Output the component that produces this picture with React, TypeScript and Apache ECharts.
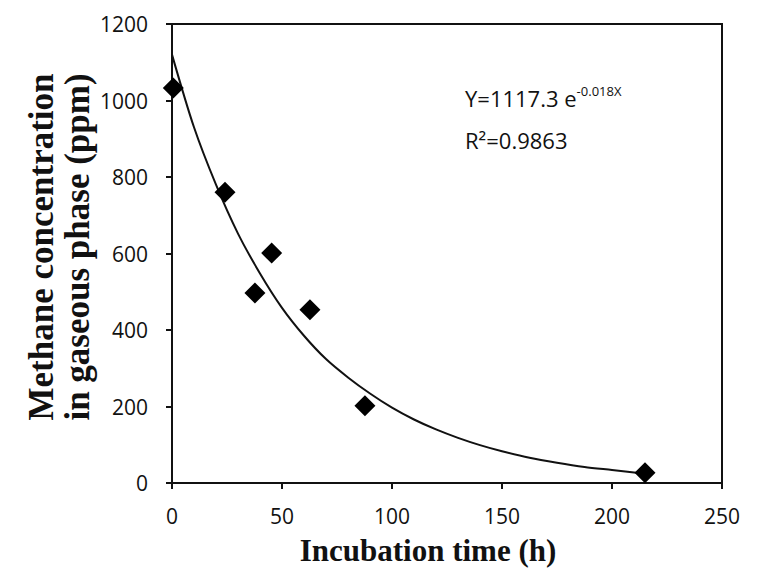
import React, { useEffect, useRef } from "react";
import * as echarts from "echarts";

// Measured points (incubation time h, methane ppm)
const timeH = [0.6, 24.1, 37.7, 45.3, 62.7, 87.7, 215];
const methanePpm = [1033, 760, 497, 601, 453, 202, 27];

// Fitted curve
const fitX = [0, 10, 20, 30, 40, 50, 60, 70, 80, 90, 100, 110, 120, 130, 140, 150, 162.5, 175, 187.5, 200, 214];
const fitY = [1120, 930, 780, 652, 548, 458, 385, 324, 276, 234, 197, 166, 140, 118, 99, 83, 66, 53, 42, 34, 25];

const xTicks = [0, 250, 50];
const yTicks = [0, 1200, 200];

const xTitle = "Incubation time (h)";
const yTitleLines = ["Methane concentration", "in gaseous phase (ppm)"];
const eqMain = "Y=1117.3 e";
const eqExp = "-0.018X";
const r2Text = "R²=0.9863";

export default function App() {
  const ref = useRef<HTMLDivElement>(null);
  useEffect(() => {
    if (!ref.current) return;
    const chart = echarts.init(ref.current, null, { renderer: "svg" });
    const tickFont = { fontFamily: "Open Sans", fontSize: 21, color: "#111", formatter: (v: number) => String(v) };
    chart.setOption({
      animation: false,
      backgroundColor: "#fff",
      grid: { left: 172, right: 35, top: 24, bottom: 100, show: true, borderColor: "#111", borderWidth: 2, backgroundColor: "transparent" },
      xAxis: {
        type: "value",
        min: xTicks[0],
        max: xTicks[1],
        interval: xTicks[2],
        splitLine: { show: false },
        axisLine: { show: true, onZero: false, lineStyle: { color: "#111", width: 2 } },
        axisTick: { show: true, length: 6, lineStyle: { color: "#111", width: 2 } },
        axisLabel: { ...tickFont, margin: 22 },
      },
      yAxis: {
        type: "value",
        min: yTicks[0],
        max: yTicks[1],
        interval: yTicks[2],
        splitLine: { show: false },
        axisLine: { show: true, lineStyle: { color: "#111", width: 2 } },
        axisTick: { show: true, length: 6, lineStyle: { color: "#111", width: 2 } },
        axisLabel: { ...tickFont, margin: 24 },
      },
      graphic: [
        {
          type: "text",
          x: 59,
          y: 247,
          rotation: Math.PI / 2,
          style: {
            text: yTitleLines.join("\n"),
            fontFamily: "Liberation Serif",
            fontWeight: "bold",
            fontSize: 35,
            lineHeight: 36,
            fill: "#111",
            align: "center",
            verticalAlign: "middle",
          },
        },
        {
          type: "text",
          x: 428,
          y: 550,
          style: {
            text: xTitle,
            fontFamily: "Liberation Serif",
            fontWeight: "bold",
            fontSize: 31,
            fill: "#111",
            align: "center",
            verticalAlign: "middle",
          },
        },
        {
          type: "text",
          x: 465,
          y: 98,
          style: {
            text: "{m|" + eqMain + "}{s|" + eqExp + "}",
            rich: {
              m: { fontFamily: "Open Sans", fontSize: 22, fill: "#111" },
              s: { fontFamily: "Open Sans", fontSize: 13, fill: "#111", verticalAlign: "top", padding: [0, 0, 14, 0] },
            },
            verticalAlign: "middle",
            align: "left",
          },
        },
        {
          type: "text",
          x: 465,
          y: 140,
          style: {
            text: r2Text,
            fontFamily: "Open Sans",
            fontSize: 22,
            fill: "#111",
            verticalAlign: "middle",
            align: "left",
          },
        },
      ],
      series: [
        {
          type: "line",
          data: fitX.map((x, i) => [x, fitY[i]]),
          smooth: 0.3,
          showSymbol: false,
          lineStyle: { color: "#111", width: 2 },
          z: 2,
        },
        {
          type: "scatter",
          data: timeH.map((x, i) => [x, methanePpm[i]]),
          symbol: "diamond",
          symbolSize: 21,
          itemStyle: { color: "#000", opacity: 1 },
          z: 3,
        },
      ],
    });
    return () => chart.dispose();
  }, []);
  return <div ref={ref} style={{ width: 757, height: 583, position: "absolute", left: 0, top: 0, background: "#fff" }} />;
}
